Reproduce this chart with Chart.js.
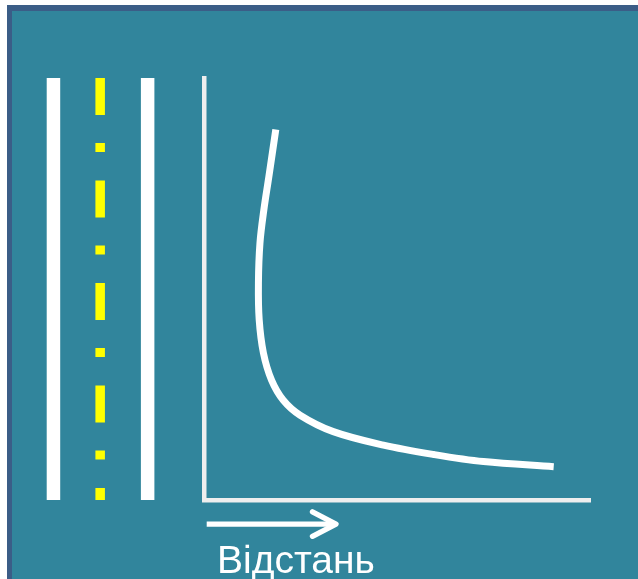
<!DOCTYPE html>
<html>
<head>
<meta charset="utf-8">
<script src="https://cdn.jsdelivr.net/npm/chart.js@4/dist/chart.umd.min.js"></script>
<style>
  html, body { margin: 0; padding: 0; background: #ffffff; }
  #wrap { width: 638px; height: 579px; }
</style>
</head>
<body>
<div id="wrap"><canvas id="chart" width="638" height="579"></canvas></div>
<script>
// --- DATA ---
// curve (distance vs. value, both 0..100 along the axes)
const curveX = [18.6, 16.8, 15.5, 14.5, 14.1, 14.3, 15.4, 17.5, 20.5, 24.9, 33.5, 46.5, 59.4, 72.4, 90.6];
const curveY = [87.8, 76.6, 68.7, 60.9, 51.4, 42.7, 34.8, 28.4, 23.7, 20.1, 16.2, 13.0, 10.8, 9.1, 7.9];

// road markings left of the axis (x positions), running top to bottom
const roadEdgeX = [-39.0, -14.6];
const roadCentreX = -26.9;
const roadSpanY = [100, 0];

// arrow under the distance axis
const arrowShaftX = [0.7, 34.2];
const arrowHeadX = [28.1, 34.2, 28.1];
const arrowHeadY = [-2.8, -5.7, -8.6];
const arrowY = -5.7;

const axisLabel = 'Відстань';

// --- COLOURS ---
const TEAL = '#31859c';
const FRAME = '#3b5d87';
const WHITE = '#ffffff';
const AXIS = '#eeeeee';
const YELLOW = '#ffff00';

function pts(xs, ys) { return xs.map((x, i) => ({ x, y: ys[i] })); }
function vline(x) { return roadSpanY.map(y => ({ x, y })); }

const datasets = [];
roadEdgeX.forEach(x => datasets.push({
  data: vline(x), borderColor: WHITE, borderWidth: 13.5, borderCapStyle: 'butt'
}));
datasets.push({
  data: vline(roadCentreX), borderColor: YELLOW, borderWidth: 9.5,
  borderCapStyle: 'butt', borderDash: [37, 28, 9, 28.5]
});
datasets.push({
  data: pts(curveX, curveY), borderColor: WHITE, borderWidth: 7,
  borderCapStyle: 'butt', tension: 0.35, capBezierPoints: false
});
datasets.push({
  data: arrowShaftX.map(x => ({ x, y: arrowY })), borderColor: WHITE,
  borderWidth: 5.3, borderCapStyle: 'butt'
});
datasets.push({
  data: pts(arrowHeadX, arrowHeadY), borderColor: WHITE, borderWidth: 5.3,
  borderCapStyle: 'round', borderJoinStyle: 'round'
});

// --- BACKGROUND + LABEL ---
const slidePlugin = {
  id: 'slide',
  beforeDraw(chart) {
    const ctx = chart.ctx;
    ctx.save();
    ctx.fillStyle = WHITE;
    ctx.fillRect(0, 0, chart.width, chart.height);
    ctx.fillStyle = FRAME;
    ctx.fillRect(7, 5, chart.width - 7, chart.height - 5);
    ctx.fillStyle = TEAL;
    ctx.fillRect(12, 11, chart.width - 12, chart.height - 11);
    ctx.restore();
  },
  afterDraw(chart) {
    const ctx = chart.ctx;
    ctx.save();
    ctx.fillStyle = WHITE;
    ctx.font = '39px "Liberation Sans", Arial, sans-serif';
    ctx.textBaseline = 'alphabetic';
    ctx.fillText(axisLabel, 217, 573);
    ctx.restore();
  }
};

new Chart(document.getElementById('chart'), {
  type: 'scatter',
  data: { datasets: datasets.map(d => Object.assign({ showLine: true, pointRadius: 0, clip: false, fill: false }, d)) },
  options: {
    responsive: false,
    animation: false,
    layout: { autoPadding: false, padding: { left: 204, right: 48, top: 78, bottom: 79 } },
    plugins: { legend: { display: false }, tooltip: { enabled: false } },
    scales: {
      x: {
        min: 0, max: 100,
        ticks: { display: false },
        grid: { display: false, drawTicks: false, tickLength: 0 },
        border: { display: true, color: AXIS, width: 4.5 }
      },
      y: {
        min: 0, max: 100,
        ticks: { display: false },
        grid: { display: false, drawTicks: false, tickLength: 0 },
        border: { display: true, color: AXIS, width: 4.5 }
      }
    }
  },
  plugins: [slidePlugin]
});
</script>
</body>
</html>
